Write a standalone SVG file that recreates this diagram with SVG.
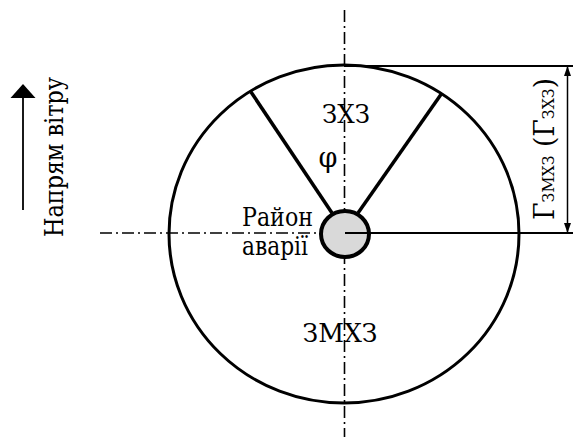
<svg xmlns="http://www.w3.org/2000/svg" width="573" height="437" viewBox="0 0 573 437">
<style>
text{fill:#000;font-family:"DejaVu Serif","Liberation Serif",serif}
.axis{stroke:#000;stroke-width:1.6;fill:none;stroke-dasharray:12 4 2 4}
.ln{stroke:#000;fill:none}
</style>
<defs>
<marker id="ah" markerWidth="10" markerHeight="14" refX="9" refY="5" orient="auto" markerUnits="userSpaceOnUse" viewBox="0 0 10 10">
<path d="M0,1.5 L10,5 L0,8.5 Z" fill="#000"/>
</marker>
<marker id="ahBig" markerWidth="14" markerHeight="26" refX="13" refY="12.5" orient="auto" markerUnits="userSpaceOnUse" viewBox="0 0 14 25">
<path d="M0,0 L14,12.5 L0,25 Z" fill="#000"/>
</marker>
</defs>
<g id="connectors">
<line class="axis" x1="344.5" y1="10" x2="344.5" y2="437"/>
<line class="axis" x1="100" y1="233" x2="320" y2="233"/>
<line class="ln" stroke-width="3.5" x1="251" y1="92" x2="332" y2="213"/>
<line class="ln" stroke-width="3.5" x1="442" y1="93" x2="358" y2="213"/>
<line class="ln" stroke-width="2" x1="344" y1="66" x2="573" y2="66"/>
<line class="ln" stroke-width="2" x1="345" y1="233" x2="573" y2="233"/>
<line class="ln" stroke-width="1.5" x1="567.5" y1="150" x2="567.5" y2="67" marker-end="url(#ah)"/>
<line class="ln" stroke-width="1.5" x1="567.5" y1="150" x2="567.5" y2="232" marker-end="url(#ah)"/>
<line class="ln" stroke-width="1.8" x1="23" y1="210" x2="23" y2="85" marker-end="url(#ahBig)"/>
</g>
<g id="zone">
<ellipse cx="344" cy="234" rx="175" ry="169" fill="none" stroke="#000" stroke-width="3"/>
</g>
<g id="accident">
<ellipse cx="345" cy="234" rx="24" ry="23" fill="#d9d9d9" stroke="#000" stroke-width="4"/>
<line class="ln" stroke-width="2" x1="345" y1="233" x2="372" y2="233"/>
</g>
<g id="labels">
<text x="346" y="123" font-size="26" text-anchor="middle" textLength="48" lengthAdjust="spacingAndGlyphs">ЗХЗ</text>
<text x="328" y="167" font-size="27" text-anchor="middle">φ</text>
<text x="340" y="342" font-size="26" text-anchor="middle" textLength="75" lengthAdjust="spacingAndGlyphs">ЗМХЗ</text>
<text x="242" y="226" font-size="26" textLength="71" lengthAdjust="spacingAndGlyphs">Район</text>
<text x="242" y="255" font-size="26" textLength="66" lengthAdjust="spacingAndGlyphs">аварії</text>
<text transform="translate(63,157) rotate(-90)" font-size="26" text-anchor="middle" textLength="160" lengthAdjust="spacingAndGlyphs">Напрям вітру</text>
<text transform="translate(554,149) rotate(-90)" font-size="27" text-anchor="middle" textLength="142" lengthAdjust="spacingAndGlyphs">Г<tspan font-size="16">ЗМХЗ</tspan> (Г<tspan font-size="16">ЗХЗ</tspan>)</text>
</g>
</svg>
